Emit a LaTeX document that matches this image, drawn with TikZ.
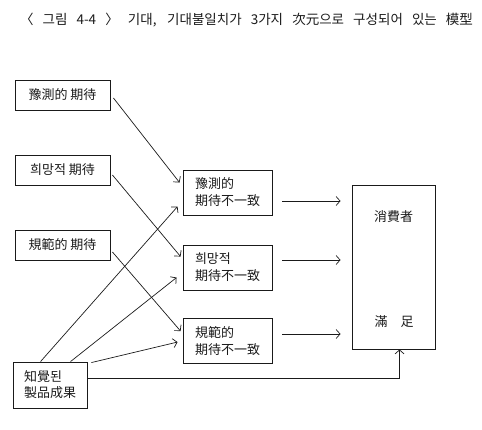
\documentclass[tikz,border=0pt]{standalone}
\usepackage{fontspec}
\setmainfont{Noto Sans CJK KR}
\usetikzlibrary{arrows.meta,calc}
\definecolor{mdlInk}{HTML}{1A1A1A}
\tikzset{
  % boxes of the model, plain thin frames
  mdl/box/.style={
    draw=mdlInk, line width=0.9pt, inner sep=0pt, align=center,
    font=\fontsize{13}{17}\selectfont, text=mdlInk
  },
  % open barbed arrows, as in the print
  mdl/arrow/.style={
    -{Straight Barb[length=4pt,width=9pt]}, draw=mdlInk, line width=0.7pt
  },
  mdl/title/.style={font=\fontsize{13.5}{15}\selectfont, text=mdlInk, inner sep=0pt},
}

\begin{document}
\begin{tikzpicture}[x=1pt,y=-1pt,
  inp/.style={mdl/box, minimum width=95pt, minimum height=30pt},
  gap/.style={mdl/box, align=left, minimum width=89pt, minimum height=45pt},
  lb/.style={font=\fontsize{13}{17}\selectfont, text=mdlInk, inner sep=0pt}]
  \useasboundingbox (0,0) rectangle (482,430);
  \node[mdl/title] (ttl) at (246.5,20)
       {\makebox[453pt][s]{〈 그림 4-4 〉 기대, 기대불일치가 3가지 次元으로 구성되어 있는 模型}};
  % expectations
  \node[inp] (pexp) at (62.5,95)  {豫測的 期待};
  \node[inp] (hexp) at (62.5,170) {희망적 期待};
  \node[inp] (nexp) at (62.5,245) {規範的 期待};
  \node[mdl/box, align=left, minimum width=74pt, minimum height=46pt,
        font=\fontsize{13}{16}\selectfont] (perf) at (50,385) {知覺된\\製品成果};
  % disconfirmations
  \node[gap] (m1) at (227.5,192.5) {豫測的\\期待不一致};
  \node[gap] (m2) at (227.5,267.5) {희망적\\期待不一致};
  \node[gap] (m3) at (227.5,341)   {規範的\\期待不一致};
  % satisfaction
  \node[mdl/box, minimum width=83pt, minimum height=164pt] (sat) at (393.5,267) {};
  \node[lb] (satA) at (393.5,217) {消費者};
  \node[lb] (satB) at (394,322)   {滿\hspace{1em}足};
  % arrows into the disconfirmation boxes
  \draw[mdl/arrow] ($(pexp.east)+(3,3)$) -- ($(m1.north west)+(-3,13)$);
  \draw[mdl/arrow] ($(hexp.east)+(2,5)$) -- ($(m2.north west)+(-2,12)$);
  \draw[mdl/arrow] ($(nexp.east)+(2,7)$) -- ($(m3.north west)+(-2,13)$);
  \draw[mdl/arrow] ($(perf.north west)+(28,0)$) -- ($(m1.north west)+(-5,37)$);
  \draw[mdl/arrow] ($(perf.north west)+(58,0)$) -- ($(m2.north west)+(-6,33)$);
  \draw[mdl/arrow] ($(perf.north east)+(4,1)$) -- ($(m3.north west)+(-5,24)$);
  % into satisfaction
  \draw[mdl/arrow] ($(m1.east)+(10,8.5)$) -- ($(sat.west |- m1.east)+(-11,8.5)$);
  \draw[mdl/arrow] ($(m2.east)+(10,-7.5)$) -- ($(sat.west |- m2.east)+(-11,-7.5)$);
  \draw[mdl/arrow] ($(m3.east)+(10,-7)$) -- ($(sat.west |- m3.east)+(-11,-7)$);
  \draw[mdl/arrow] ($(perf.east)+(0,-7)$) -| ($(sat.south west)+(48,0)$);
\end{tikzpicture}
\end{document}
